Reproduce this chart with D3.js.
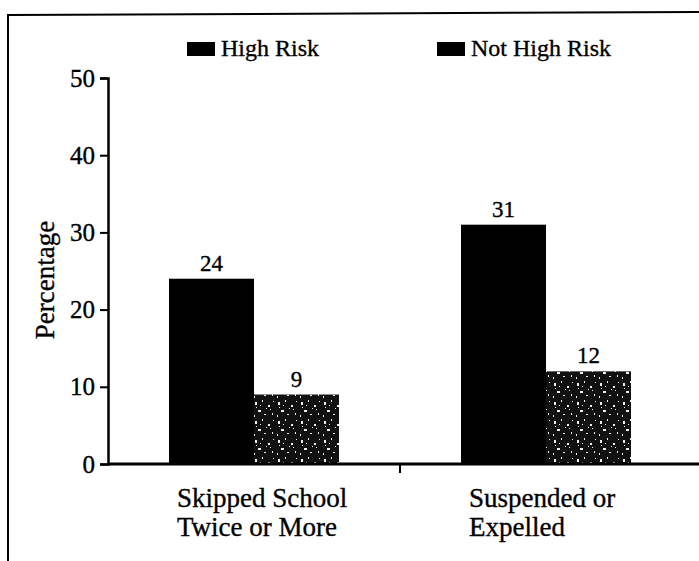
<!DOCTYPE html>
<html><head><meta charset="utf-8">
<script src="https://cdn.jsdelivr.net/npm/d3@7"></script>
<style>body{margin:0;background:#fff}svg{display:block}text{font-family:"Liberation Serif","Times New Roman",serif;fill:#000;stroke:#000;stroke-width:0.35px}</style>
</head><body><svg id="c" width="699" height="561"></svg>
<script>
const categories = [["Skipped School","Twice or More"],["Suspended or","Expelled"]];
const seriesNames = ["High Risk","Not High Risk"];
const highRisk = [24, 31];
const notHighRisk = [9, 12];
const yTicks = [0,10,20,30,40,50];

const svg = d3.select("#c");
const defs = svg.append("defs");
const pat = defs.append("pattern").attr("id","speck").attr("patternUnits","userSpaceOnUse").attr("width",23).attr("height",19);
pat.append("rect").attr("width",23).attr("height",19).attr("fill","#111");
[[2,3,2,3],[9,1,1,2],[15,6,2,2],[5,11,3,2],[19,14,1,2],[11,15,2,1],[20,2,1,1],[1,16,1,2],[13,9,1,1],[7,6,1,1],[17,10,1,1],[3,8,1,1]].forEach(d=>{
  pat.append("rect").attr("x",d[0]).attr("y",d[1]).attr("width",d[2]).attr("height",d[3]).attr("fill","#eee");
});

// frame
svg.append("line").attr("x1",8).attr("y1",15).attr("x2",699).attr("y2",12).attr("stroke","#000").attr("stroke-width",2);
svg.append("line").attr("x1",8).attr("y1",14).attr("x2",8).attr("y2",561).attr("stroke","#000").attr("stroke-width",2);

const y = d3.scaleLinear().domain([0,50]).range([464,78]);
const x0 = d3.scaleBand().domain(d3.range(categories.length)).range([108,692]).padding(0);
const x1 = d3.scaleBand().domain(seriesNames).range([0,170]).padding(0);
const fills = {"High Risk":"#000","Not High Risk":"url(#speck)"};

categories.forEach((c,i)=>{
  const vals = [highRisk[i], notHighRisk[i]];
  const gx = x0(i) + (x0.bandwidth()-170)/2;
  seriesNames.forEach((s,j)=>{
    const bx = gx + x1(s);
    svg.append("rect").attr("x",bx).attr("y",y(vals[j])).attr("width",x1.bandwidth()).attr("height",y(0)-y(vals[j])).attr("fill",fills[s]);
    svg.append("text").attr("x",bx+x1.bandwidth()/2).attr("y",y(vals[j])-8).attr("text-anchor","middle").attr("font-size",23).text(vals[j]);
  });
  const t = svg.append("text").attr("x",gx+8).attr("y",507).attr("font-size",27);
  c.forEach((line,k)=>t.append("tspan").attr("x",gx+8).attr("dy",k?29:0).text(line));
});

// y axis
const yAxis = d3.axisLeft(y).tickValues(yTicks).tickSize(8).tickPadding(5);
const ga = svg.append("g").attr("transform","translate(108,0)").call(yAxis);
ga.select(".domain").attr("stroke-width",2.5);
ga.selectAll(".tick line").attr("stroke-width",2);
ga.selectAll("text").attr("font-family","Liberation Serif").attr("font-size",25).attr("fill","#000");

// x axis
const xAxis = d3.axisBottom(x0).tickValues([]).tickSizeOuter(0);
const gx = svg.append("g").attr("transform",`translate(0,${y(0)})`).call(xAxis);
gx.select(".domain").attr("d","M108,0H699").attr("stroke-width",3);
svg.append("line").attr("x1",x0(1)).attr("x2",x0(1)).attr("y1",y(0)).attr("y2",y(0)+9).attr("stroke","#000").attr("stroke-width",2);

// y label
svg.append("text").attr("transform","translate(54,280) rotate(-90)").attr("text-anchor","middle").attr("font-size",27).text("Percentage");

// legend
const legX = [187,437];
seriesNames.forEach((s,j)=>{
  svg.append("rect").attr("x",legX[j]).attr("y",42).attr("width",28).attr("height",14).attr("fill","#000");
  svg.append("text").attr("x",legX[j]+34).attr("y",56).attr("font-size",24).text(s);
});
</script></body></html>
